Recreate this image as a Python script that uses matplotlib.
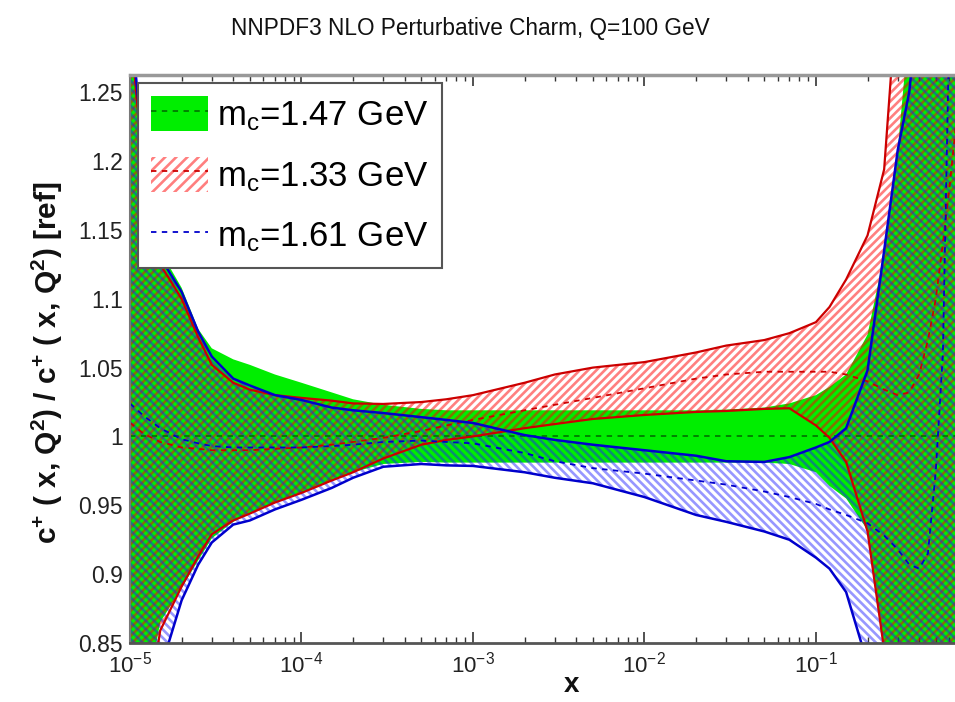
import matplotlib
matplotlib.use("Agg")
import matplotlib.pyplot as plt
from matplotlib.patches import Patch
from matplotlib.lines import Line2D
from matplotlib.ticker import FixedLocator, FixedFormatter, LogLocator, NullFormatter

plt.rcParams['font.family'] = ['Liberation Sans', 'DejaVu Sans']
plt.rcParams['mathtext.fontset'] = 'custom'
plt.rcParams['mathtext.rm'] = 'Liberation Sans'
plt.rcParams['mathtext.it'] = 'Liberation Sans'
plt.rcParams['mathtext.bf'] = 'Liberation Sans:bold'
plt.rcParams['hatch.linewidth'] = 1.9

# ---------------- data ----------------
x = [1e-5, 1.2e-5, 1.5e-5, 2e-5, 2.5e-5, 3e-5, 4e-5, 5e-5, 7e-5, 1e-4,
     1.5e-4, 2e-4, 3e-4, 5e-4, 7e-4, 1e-3, 2e-3, 3e-3, 5e-3, 1e-2,
     2e-2, 3e-2, 5e-2, 7e-2, 0.1, 0.12, 0.15, 0.2, 0.25, 0.3,
     0.35, 0.4, 0.45, 0.5, 0.55, 0.6, 0.66]

# m_c = 1.47 GeV (reference)
g_hi = [1.30, 1.20, 1.135, 1.108, 1.078, 1.064, 1.056, 1.052, 1.045, 1.039,
        1.032, 1.027, 1.023, 1.020, 1.019, 1.019, 1.019, 1.019, 1.019, 1.019,
        1.019, 1.0195, 1.021, 1.024, 1.030, 1.036, 1.045, 1.074, 1.132, 1.208,
        1.30, 1.40, 1.50, 1.50, 1.50, 1.50, 1.50]
g_lo = [0.72, 0.80, 0.865, 0.890, 0.910, 0.926, 0.938, 0.944, 0.952, 0.959,
        0.968, 0.974, 0.980, 0.9815, 0.981, 0.981, 0.981, 0.981, 0.981, 0.981,
        0.981, 0.981, 0.981, 0.980, 0.974, 0.964, 0.955, 0.932, 0.845, 0.70,
        0.60, 0.60, 0.60, 0.60, 0.60, 0.60, 0.60]
g_c = [1.0] * len(x)

# m_c = 1.33 GeV
r_hi = [1.30, 1.19, 1.125, 1.100, 1.072, 1.052, 1.039, 1.034, 1.030, 1.028,
        1.026, 1.024, 1.0236, 1.025, 1.027, 1.030, 1.039, 1.045, 1.050, 1.054,
        1.061, 1.066, 1.070, 1.075, 1.083, 1.094, 1.114, 1.146, 1.194, 1.33,
        1.50, 1.50, 1.50, 1.50, 1.50, 1.50, 1.50]
r_lo = [0.70, 0.78, 0.859, 0.891, 0.913, 0.929, 0.939, 0.944, 0.952, 0.959,
        0.968, 0.974, 0.984, 0.994, 0.9975, 1.000, 1.006, 1.009, 1.0127, 1.0156,
        1.0178, 1.0185, 1.020, 1.0205, 1.008, 0.999, 0.9815, 0.931, 0.845, 0.70,
        0.60, 0.60, 0.60, 0.60, 0.60, 0.60, 0.60]
r_c = [1.010, 1.002, 0.996, 0.992, 0.991, 0.990, 0.990, 0.990, 0.991, 0.992,
       0.994, 0.996, 0.999, 1.004, 1.008, 1.012, 1.019, 1.023, 1.028, 1.035,
       1.042, 1.045, 1.047, 1.047, 1.047, 1.047, 1.045, 1.040, 1.034, 1.030,
       1.032, 1.045, 1.070, 1.100, 1.140, 1.180, 1.230]

# m_c = 1.61 GeV
b_hi = [1.31, 1.20, 1.13, 1.105, 1.076, 1.058, 1.042, 1.037, 1.030, 1.0265,
        1.021, 1.019, 1.017, 1.014, 1.012, 1.0098, 1.001, 0.9975, 0.994, 0.990,
        0.986, 0.982, 0.9815, 0.985, 0.992, 0.996, 1.006, 1.048, 1.135, 1.208,
        1.25, 1.32, 1.50, 1.50, 1.50, 1.50, 1.50]
b_lo = [0.68, 0.76, 0.83, 0.881, 0.907, 0.923, 0.936, 0.939, 0.947, 0.954,
        0.9626, 0.970, 0.978, 0.980, 0.979, 0.9786, 0.974, 0.970, 0.966, 0.956,
        0.943, 0.938, 0.931, 0.925, 0.912, 0.904, 0.887, 0.835, 0.75, 0.60,
        0.60, 0.60, 0.60, 0.60, 0.60, 0.60, 0.60]
b_c = [1.024, 1.015, 1.006, 0.998, 0.995, 0.993, 0.992, 0.992, 0.992, 0.992,
       0.993, 0.994, 0.996, 0.997, 0.996, 0.995, 0.988, 0.982, 0.977, 0.973,
       0.968, 0.965, 0.960, 0.956, 0.951, 0.947, 0.943, 0.937, 0.928, 0.918,
       0.907, 0.904, 0.915, 0.975, 1.06, 1.30, 1.50]

labels = [r'm$_\mathregular{c}$=1.47 GeV', r'm$_\mathregular{c}$=1.33 GeV',
          r'm$_\mathregular{c}$=1.61 GeV']
yticks = [0.85, 0.9, 0.95, 1.0, 1.05, 1.1, 1.15, 1.2, 1.25]
ytick_labels = ['0.85', '0.9', '0.95', '1', '1.05', '1.1', '1.15', '1.2', '1.25']
title = 'NNPDF3 NLO Perturbative Charm, Q=100 GeV'

# ---------------- styles ----------------
GREEN = '#00ee00'
RED_LINE = '#cc0000'
BLUE_LINE = '#0000cc'
RED_HATCH = (1.0, 0.0, 0.0, 0.5)
BLUE_HATCH = (0.1, 0.1, 1.0, 0.45)

fig = plt.figure(figsize=(9.55, 7.02), dpi=100)
ax = fig.add_axes([130/955, 59/702, 826/955, 568/702])

ax.set_xscale('log')
ax.set_xlim(1e-5, 0.656)
ax.set_ylim(0.85, 1.2625)

ax.fill_between(x, g_lo, g_hi, facecolor=GREEN, edgecolor='none', lw=0, zorder=1)
ax.fill_between(x, r_lo, r_hi, facecolor='none', edgecolor=RED_HATCH, hatch='////', lw=0, zorder=2)
ax.fill_between(x, b_lo, b_hi, facecolor='none', edgecolor=BLUE_HATCH, hatch='\\\\\\\\', lw=0, zorder=3)

ax.plot(x, g_c, color='#007a00', ls=(0, (3, 3)), lw=1.3, zorder=4)
ax.plot(x, r_hi, color=RED_LINE, lw=1.6, zorder=5)
ax.plot(x, r_lo, color=RED_LINE, lw=1.6, zorder=5)
ax.plot(x, r_c, color=RED_LINE, ls=(0, (3, 3)), lw=1.3, zorder=5)
ax.plot(x, b_hi, color=BLUE_LINE, lw=1.8, zorder=6)
ax.plot(x, b_lo, color=BLUE_LINE, lw=1.8, zorder=6)
ax.plot(x, b_c, color=BLUE_LINE, ls=(0, (3, 3)), lw=1.3, zorder=6)

# axes styling
ax.yaxis.set_major_locator(FixedLocator(yticks))
ax.yaxis.set_major_formatter(FixedFormatter(ytick_labels))
ax.xaxis.set_major_locator(LogLocator(base=10, numticks=20))
ax.xaxis.set_minor_locator(LogLocator(base=10, subs=[2, 3, 4, 5, 6, 7, 8, 9], numticks=20))
ax.xaxis.set_minor_formatter(NullFormatter())
ax.tick_params(axis='x', which='major', direction='in', length=8, width=1.2, top=True,
               labelsize=16, colors='#333333', labelcolor='#222222', pad=6)
ax.tick_params(axis='x', which='minor', direction='in', length=4, width=1.0, top=True,
               colors='#333333')
ax.tick_params(axis='y', which='both', length=0, labelsize=16.5, labelcolor='#222222', pad=5)
ax.spines['right'].set_visible(False)
ax.spines['top'].set_color('#999999')
ax.spines['top'].set_linewidth(2.5)
ax.spines['bottom'].set_color('#555555')
ax.spines['bottom'].set_linewidth(2)
ax.spines['left'].set_color('#777777')
ax.spines['left'].set_linewidth(1.5)
for s in ax.spines.values():
    s.set_zorder(10)

# legend
h1 = (Patch(facecolor=GREEN, edgecolor='none'),
      Line2D([], [], color='#007a00', ls=(0, (3, 3)), lw=1.3))
h2 = (Patch(facecolor='white', edgecolor=RED_HATCH, hatch='///', lw=0),
      Line2D([], [], color=RED_LINE, ls=(0, (3, 3)), lw=1.3))
h3 = Line2D([], [], color=BLUE_LINE, ls=(0, (3, 3)), lw=1.3)
leg = ax.legend([h1, h2, h3], labels, loc='upper left',
                bbox_to_anchor=(8/826, 1 - 8/568), borderaxespad=0,
                fontsize=25, frameon=True, fancybox=False, framealpha=1,
                edgecolor='#555555', handlelength=1.65, handleheight=1.18,
                handletextpad=0.25, labelspacing=0.68, borderpad=0.38)
leg.get_frame().set_linewidth(1.5)
leg.set_zorder(20)

fig.text(470/955, 1 - 29/702, title, ha='center', va='center', fontsize=16.3, color='#111111')
fig.text(571/955, 1 - 685/702, 'x', ha='center', va='center', fontsize=20,
         fontweight='bold', color='#111111')
fig.text(47/955, 1 - 363/702,
         r'c$^\mathbf{+}$ ( x, Q$^\mathbf{2}$) / c$^\mathbf{+}$ ( x, Q$^\mathbf{2}$) [ref]',
         rotation=90, ha='center', va='center', fontsize=21.5, fontweight='bold',
         color='#111111')

fig.savefig('out.png', dpi=100)
